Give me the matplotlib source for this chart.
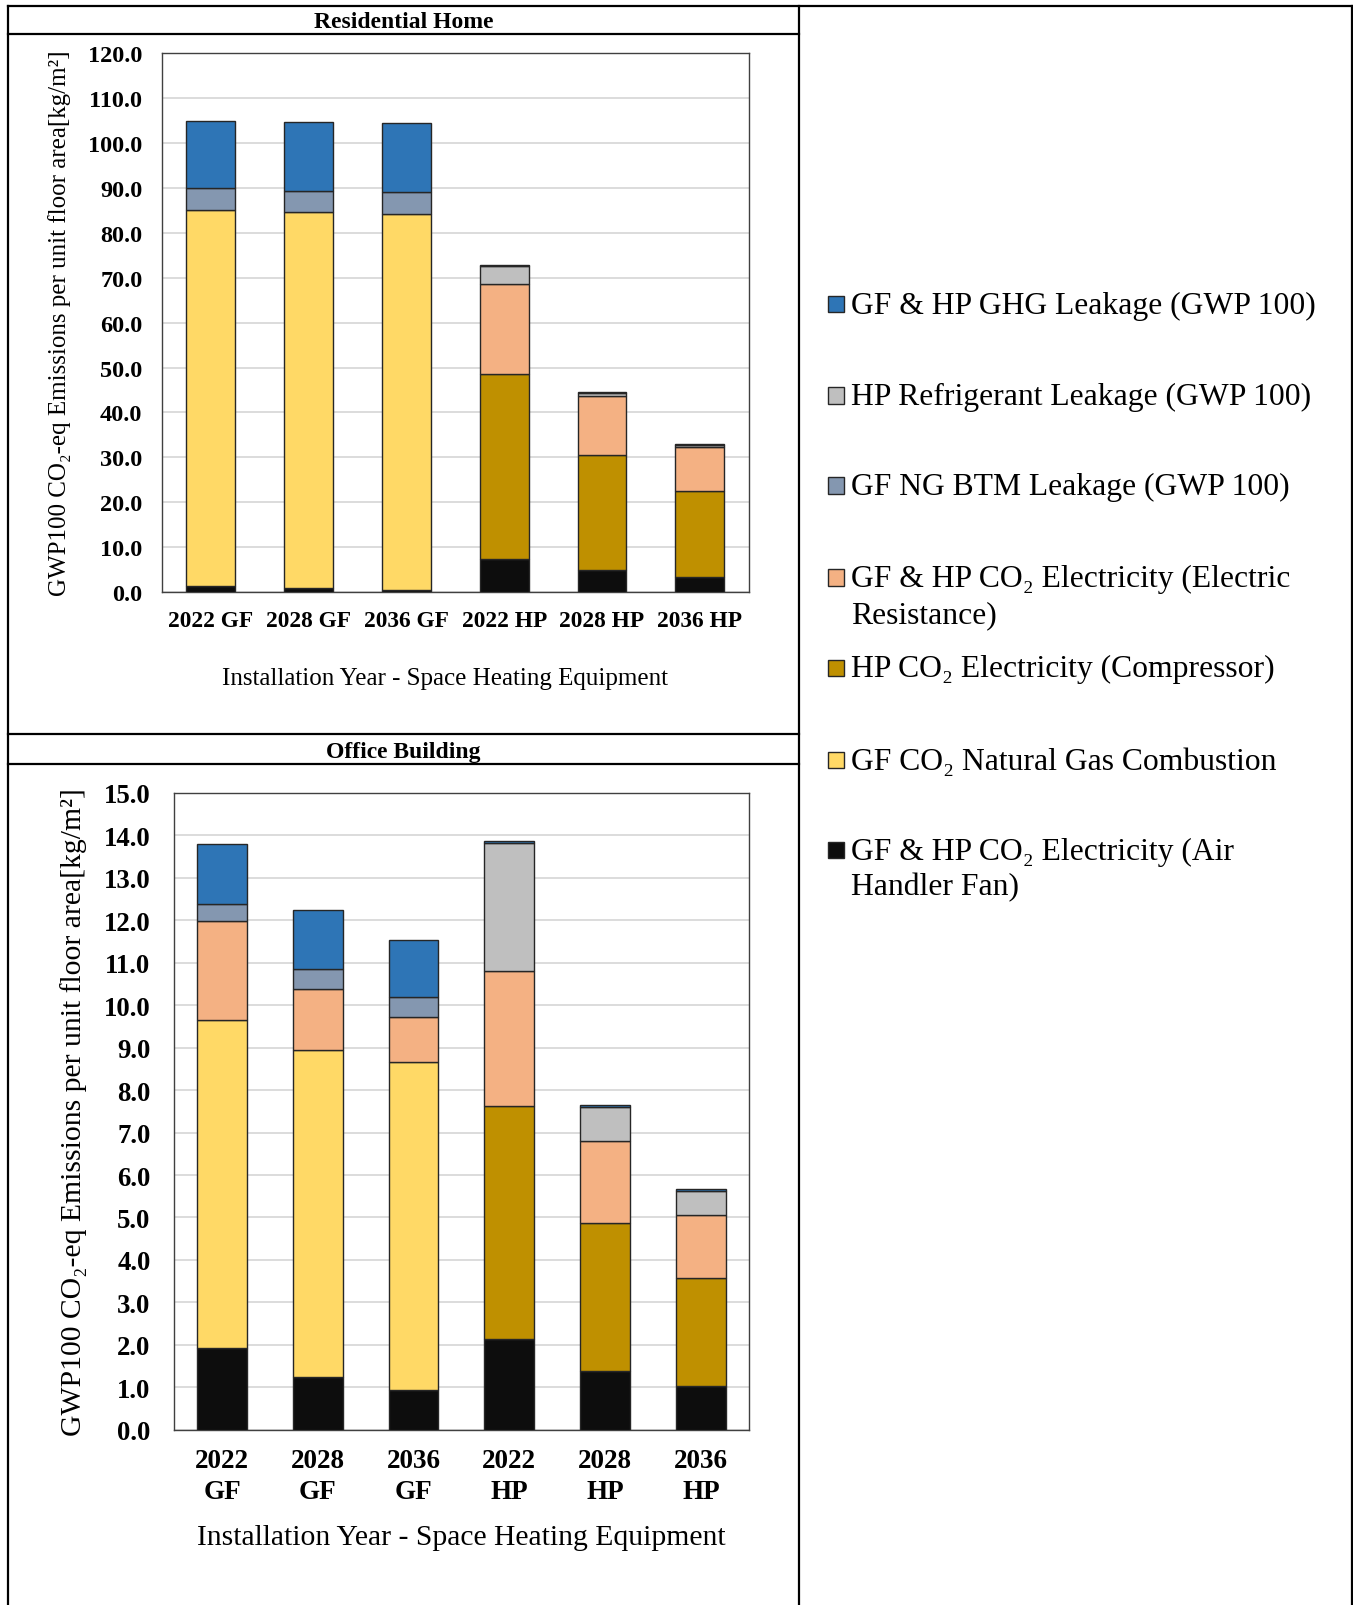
import matplotlib
matplotlib.use("Agg")
import matplotlib.pyplot as plt
from matplotlib.lines import Line2D
from matplotlib.patches import Rectangle
import numpy as np

plt.rcParams['font.family'] = ['Liberation Serif', 'DejaVu Serif']

# ---------------- data ----------------
categories_res = ["2022 GF", "2028 GF", "2036 GF", "2022 HP", "2028 HP", "2036 HP"]
categories_off = ["2022\nGF", "2028\nGF", "2036\nGF", "2022\nHP", "2028\nHP", "2036\nHP"]

series_names = [
    "GF & HP CO\u2082 Electricity (Air\nHandler Fan)",
    "GF CO\u2082 Natural Gas Combustion",
    "HP CO\u2082 Electricity (Compressor)",
    "GF & HP CO\u2082 Electricity (Electric\nResistance)",
    "GF NG BTM Leakage (GWP 100)",
    "HP Refrigerant Leakage (GWP 100)",
    "GF & HP GHG Leakage (GWP 100)",
]
series_colors = ["#0D0D0D", "#FFD966", "#BF9000", "#F4B183", "#8497B0", "#BFBFBF", "#2E75B6"]

# Residential Home (kg/m2)
air_fan_res = [1.3, 0.8, 0.5, 7.4, 4.8, 3.3]
ng_comb_res = [83.8, 83.8, 83.8, 0.0, 0.0, 0.0]
compressor_res = [0.0, 0.0, 0.0, 41.2, 25.8, 19.2]
elec_res_res = [0.0, 0.0, 0.0, 20.1, 13.0, 9.8]
btm_res = [4.9, 4.8, 4.7, 0.0, 0.0, 0.0]
refrig_res = [0.0, 0.0, 0.0, 3.9, 0.7, 0.4]
ghg_res = [15.0, 15.3, 15.5, 0.3, 0.3, 0.3]

# Office Building (kg/m2)
air_fan_off = [1.93, 1.24, 0.93, 2.14, 1.38, 1.03]
ng_comb_off = [7.73, 7.70, 7.73, 0.0, 0.0, 0.0]
compressor_off = [0.0, 0.0, 0.0, 5.49, 3.49, 2.55]
elec_res_off = [2.31, 1.45, 1.07, 3.17, 1.94, 1.49]
btm_off = [0.42, 0.45, 0.46, 0.0, 0.0, 0.0]
refrig_off = [0.0, 0.0, 0.0, 3.02, 0.79, 0.56]
ghg_off = [1.40, 1.39, 1.35, 0.04, 0.04, 0.03]

res_series = [air_fan_res, ng_comb_res, compressor_res, elec_res_res, btm_res, refrig_res, ghg_res]
off_series = [air_fan_off, ng_comb_off, compressor_off, elec_res_off, btm_off, refrig_off, ghg_off]

res_yticks = np.arange(0, 121, 10)
off_yticks = np.arange(0, 16, 1)

ylabel = "GWP100 CO\u2082-eq Emissions per unit floor area[kg/m\u00b2]"
xlabel = "Installation Year - Space Heating Equipment"

# ---------------- figure ----------------
W, H = 1321.0, 1568.0
fig = plt.figure(figsize=(13.53, 16.06), dpi=100)


def fx(x):
    return x / W


def fy(y):
    return 1 - y / H


def draw_stack(ax, series, cats, width, yticks, tick_fs, xtick_fs, ylim):
    x = np.arange(len(cats))
    bottom = np.zeros(len(cats))
    for vals, col in zip(series, series_colors):
        v = np.array(vals, dtype=float)
        mask = v > 0
        ax.bar(x[mask], v[mask], width=width, bottom=bottom[mask], color=col,
               edgecolor="#262626", linewidth=1.0, zorder=3)
        bottom = bottom + v
    ax.set_xlim(-0.5, len(cats) - 0.5)
    ax.set_ylim(*ylim)
    ax.set_yticks(yticks)
    ax.set_yticklabels([f"{t:.1f}" for t in yticks], fontsize=tick_fs, fontweight="bold")
    ax.set_xticks(x)
    ax.set_xticklabels(cats, fontsize=xtick_fs, fontweight="bold")
    ax.tick_params(length=0)
    ax.yaxis.grid(True, color="#D9D9D9", linewidth=1.3, zorder=0)
    ax.set_axisbelow(True)
    for s in ax.spines.values():
        s.set_color("#404040")
        s.set_linewidth(1.0)


# top axes
ax1 = fig.add_axes([fx(158), fy(579), fx(731) - fx(158), fy(53) - fy(579)])
draw_stack(ax1, res_series, categories_res, 0.5, res_yticks, 17.5, 16.8, (0, 120))
ax1.tick_params(axis="y", pad=14)
ax1.tick_params(axis="x", pad=13)
ax1.set_xlabel(xlabel, fontsize=18, labelpad=26)
ax1.xaxis.label.set_x(0.483)
ax1.set_ylabel(ylabel, fontsize=18, labelpad=12)

# bottom axes
ax2 = fig.add_axes([fx(170), fy(1397), fx(731) - fx(170), fy(775) - fy(1397)])
draw_stack(ax2, off_series, categories_off, 0.52, off_yticks, 19.3, 19.5, (0, 15))
ax2.tick_params(axis="y", pad=17)
ax2.tick_params(axis="x", pad=13)
for lab in ax2.get_xticklabels():
    lab.set_linespacing(1.3)
ax2.set_xlabel(xlabel, fontsize=21.3, labelpad=15)
ax2.set_ylabel(ylabel, fontsize=21.3, labelpad=12)

# ---------------- table borders ----------------
lw = 1.6
def fline(x0, y0, x1, y1, lw=lw):
    fig.add_artist(Line2D([fx(x0), fx(x1)], [fy(y0), fy(y1)], color="black", linewidth=lw))

fline(8, 7, 1320, 7)
fline(8, 7, 8, 1568)
fline(1320, 7, 1320, 1568)
fline(780, 7, 780, 1568)
fline(8, 34, 780, 34)
fline(8, 718, 780, 718)
fline(8, 747, 780, 747)

fig.text(fx(394), fy(22), "Residential Home", ha="center", va="center",
         fontsize=17, fontweight="bold")
fig.text(fx(394), fy(735), "Office Building", ha="center", va="center",
         fontsize=17, fontweight="bold")

# ---------------- legend ----------------
legend_y = [831, 743, 653, 565, 475, 387, 298]  # same order as series (bottom->top)
for name, col, yc in zip(series_names, series_colors, legend_y):
    sq = 16
    fig.add_artist(Rectangle((fx(808), fy(yc + sq / 2)), fx(sq), sq / H,
                             facecolor=col, edgecolor="#262626", linewidth=1.0,
                             transform=fig.transFigure))
    for i, line in enumerate(name.split("\n")):
        fig.text(fx(831), fy(yc + 1 + i * 35), line, ha="left", va="center", fontsize=22.8)

fig.savefig("out.png", dpi=100)
